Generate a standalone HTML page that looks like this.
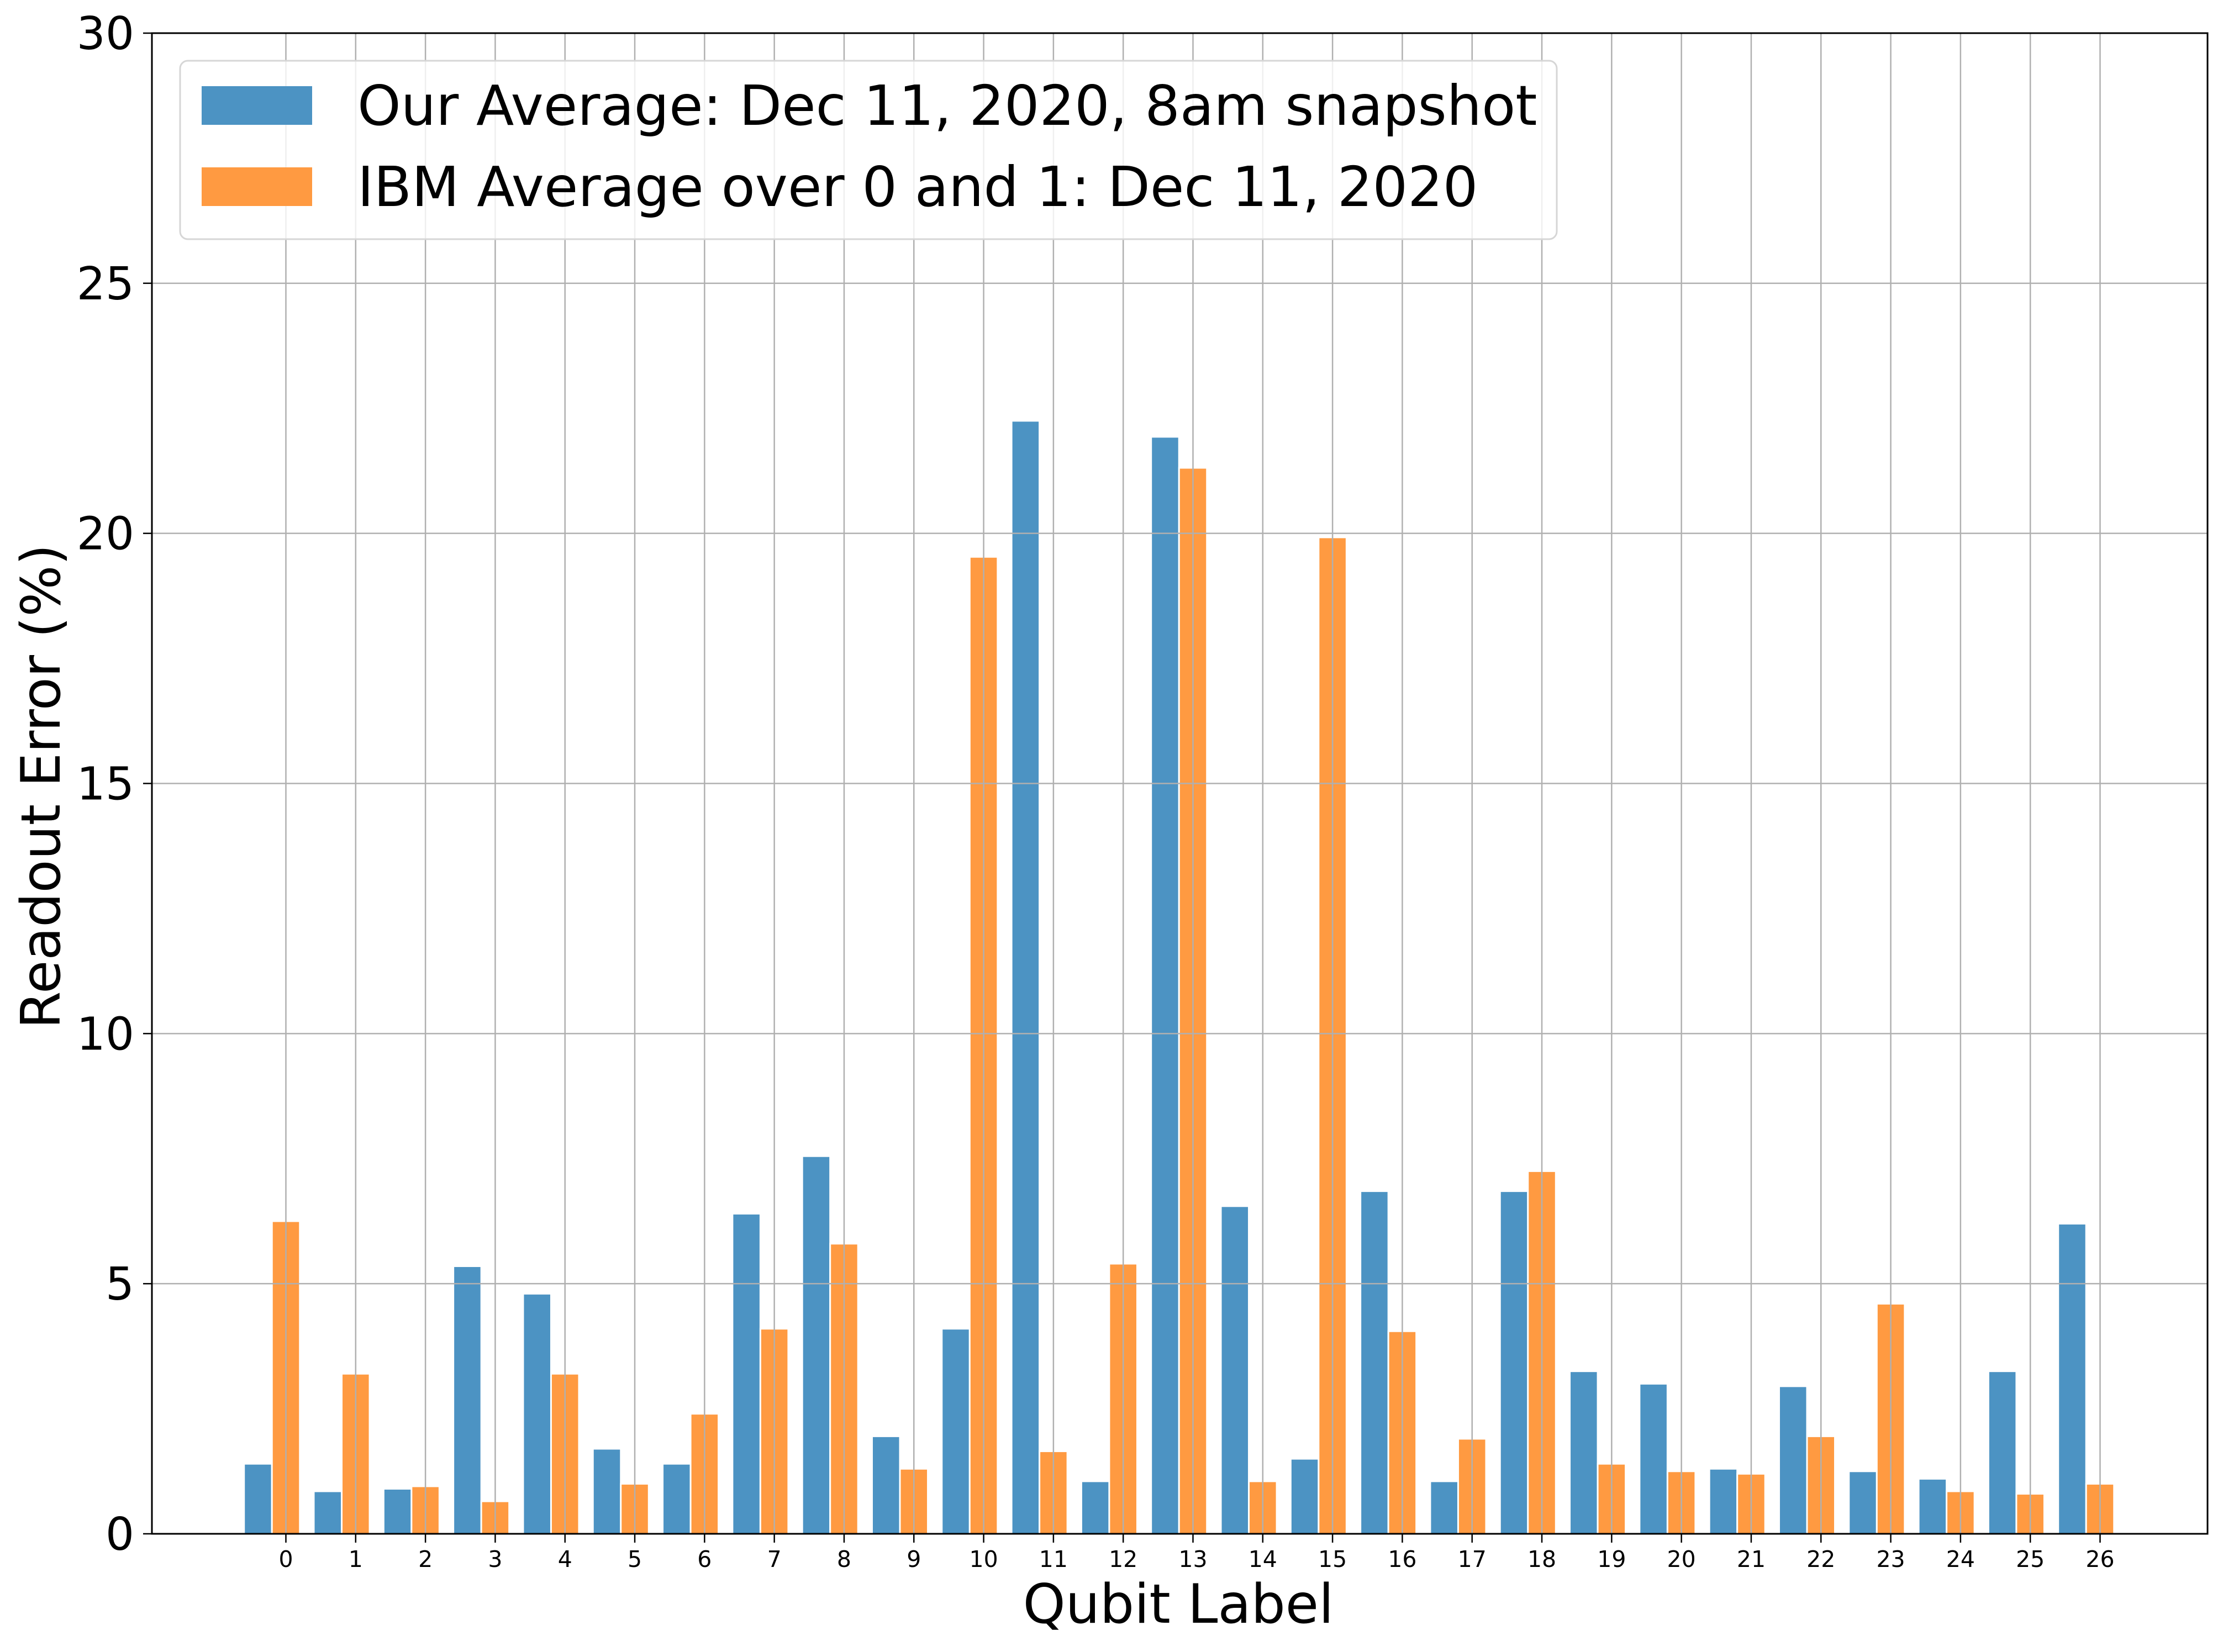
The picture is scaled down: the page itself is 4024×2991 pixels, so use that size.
<!DOCTYPE html>
<html><head><meta charset="utf-8"><style>
html,body{margin:0;padding:0;background:#fff}
svg{display:block}
text{font-family:"DejaVu Sans","Liberation Sans",sans-serif;fill:#000}
</style></head><body>
<svg id="chart" width="4024" height="2991" viewBox="0 0 4024 2991" xmlns="http://www.w3.org/2000/svg">
<rect width="4024" height="2991" fill="#fff"/>
<g id="bars"></g>
<g id="grid"></g>
<g id="axes"></g>
<text x="2133" y="2938" font-size="98" text-anchor="middle">Qubit Label</text>
<text transform="translate(108,1424) rotate(-90)" font-size="98" text-anchor="middle">Readout Error (%)</text>
<g>
<rect x="326" y="110" width="2492" height="323" rx="14" fill="#fff" fill-opacity="0.8" stroke="#d6d6d6" stroke-width="3"/>
<rect x="365" y="156" width="200" height="70" fill="#4c93c3"/>
<text x="647" y="226" font-size="100">Our Average: Dec 11, 2020, 8am snapshot</text>
<rect x="365" y="303" width="200" height="70" fill="#ff9a41"/>
<text x="647" y="373" font-size="100">IBM Average over 0 and 1: Dec 11, 2020</text>
</g>
</svg>
<script>
const categories = [0,1,2,3,4,5,6,7,8,9,10,11,12,13,14,15,16,17,18,19,20,21,22,23,24,25,26];
const ourValues = [1.4,0.85,0.9,5.35,4.8,1.7,1.4,6.4,7.55,1.95,4.1,22.25,1.05,21.93,6.55,1.5,6.85,1.05,6.85,3.25,3.0,1.3,2.95,1.25,1.1,3.25,6.2];
const ibmValues = [6.25,3.2,0.95,0.65,3.2,1.0,2.4,4.1,5.8,1.3,19.53,1.65,5.4,21.31,1.05,19.92,4.05,1.9,7.25,1.4,1.25,1.2,1.95,4.6,0.85,0.8,1.0];
const yTicks = [0,5,10,15,20,25,30];

const NS = 'http://www.w3.org/2000/svg';
const L = 275, R = 3996, T = 60, B = 2777;
const xMin = -1.92, xMax = 27.54, yMin = 0, yMax = 30;
function xs(v){ return L + (v - xMin) / (xMax - xMin) * (R - L); }
function ys(v){ return B - (v - yMin) / (yMax - yMin) * (B - T); }
function mk(tag, attrs, parent){ const e = document.createElementNS(NS, tag); for (const k in attrs) e.setAttribute(k, attrs[k]); parent.appendChild(e); return e; }

const barsG = document.getElementById('bars');
const gridG = document.getElementById('grid');
const axesG = document.getElementById('axes');
const bw = 0.4;
categories.forEach((c, i) => {
  const b0 = xs(c - 0.6), b1 = xs(c - 0.2), o1 = xs(c + 0.2);
  const b = mk('rect', {x: b0, y: ys(ourValues[i]), width: b1 - b0, height: ys(0) - ys(ourValues[i]), fill: '#4c93c3', stroke: '#fff', 'stroke-width': 3}, barsG);
  
  
  const o = mk('rect', {x: b1, y: ys(ibmValues[i]), width: o1 - b1, height: ys(0) - ys(ibmValues[i]), fill: '#ff9a41', stroke: '#fff', 'stroke-width': 3}, barsG);
  
  
  const g = mk('line', {x1: xs(c), x2: xs(c), y1: T, y2: B, stroke: '#b0b0b0', 'stroke-width': 2.5}, gridG);
  
  
  const t = mk('line', {x1: xs(c), x2: xs(c), y1: B, y2: B + 16, stroke: '#000', 'stroke-width': 2.5}, axesG);
  
  
  const tl = mk('text', {x: xs(c), y: B + 60, 'font-size': 41, 'text-anchor': 'middle'}, axesG);
  tl.textContent = String(c);
  
  
});
yTicks.forEach(v => {
  const g = mk('line', {x1: L, x2: R, y1: ys(v), y2: ys(v), stroke: '#b0b0b0', 'stroke-width': 2.5}, gridG);
  
  
  const t = mk('line', {x1: L - 16, x2: L, y1: ys(v), y2: ys(v), stroke: '#000', 'stroke-width': 2.5}, axesG);
  
  
  const tl = mk('text', {x: L - 32, y: ys(v) + 29, 'font-size': 82, 'text-anchor': 'end'}, axesG);
  tl.textContent = String(v);
  
  
});
const frame = mk('rect', {x: L, y: T, width: R - L, height: B - T, fill: 'none', stroke: '#000', 'stroke-width': 3}, axesG);


</script>
</body></html>
